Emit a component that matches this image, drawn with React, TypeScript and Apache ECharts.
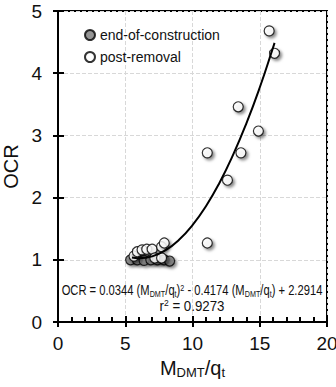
import React, { useEffect, useRef } from "react";
import * as echarts from "echarts";

const endConstructionX = [5.4, 5.9, 6.4, 6.9, 7.4, 7.9, 8.3];
const endConstructionY = [1.0, 1.0, 0.99, 1.0, 1.0, 1.0, 0.98];

const postRemovalX = [15.7, 16.1, 13.4, 14.9, 11.1, 13.6, 12.6, 11.1, 5.65, 5.9, 6.25, 6.6, 7.0, 7.7, 7.9, 7.2, 7.7];
const postRemovalY = [4.68, 4.32, 3.46, 3.07, 2.72, 2.72, 2.28, 1.27, 1.06, 1.13, 1.16, 1.17, 1.17, 1.21, 1.27, 1.03, 1.03];

const fitX = [5.5, 6, 7, 8, 9, 10, 11, 12, 13, 14, 15, 16, 16.1];
const fitY = [1.036, 1.025, 1.055, 1.154, 1.321, 1.557, 1.862, 2.236, 2.679, 3.19, 3.77, 4.419, 4.488];

const xTicks = [0, 5, 10, 15, 20];
const yTicks = [0, 1, 2, 3, 4, 5];

const FONT = "Liberation Sans, Arial, sans-serif";

export default function App() {
  const ref = useRef<HTMLDivElement>(null);
  useEffect(() => {
    if (!ref.current) return;
    const chart = echarts.init(ref.current, null, { renderer: "svg" });
    const shadow = {
      shadowBlur: 3,
      shadowColor: "rgba(0,0,0,0.55)",
      shadowOffsetX: 2,
      shadowOffsetY: 2,
    };
    const baseX = {
      type: "value",
      min: xTicks[0],
      max: xTicks[xTicks.length - 1],
      interval: 5,
    };
    const baseY = {
      type: "value",
      min: yTicks[0],
      max: yTicks[yTicks.length - 1],
      interval: 1,
    };
    const tickStyle = { color: "#000", width: 2 };
    chart.setOption({
      animation: false,
      textStyle: { fontFamily: FONT },
      grid: {
        left: 58,
        right: 9,
        top: 11,
        bottom: 65,
        outerBoundsMode: "none",
        containLabel: false,
        show: true,
        borderColor: "#000",
        borderWidth: 2,
        backgroundColor: "transparent",
      },
      legend: {
        orient: "vertical",
        left: 79,
        top: 23,
        itemWidth: 10,
        itemHeight: 10,
        itemGap: 8,
        icon: "circle",
        textStyle: { fontFamily: FONT, fontSize: 14, color: "#111" },
        data: ["end-of-construction", "post-removal"],
      },
      xAxis: [
        {
          ...baseX,
          position: "bottom",
          name: "{m|M}{s|DMT}{m|/q}{s|t}",
          nameLocation: "middle",
          nameGap: 33,
          nameTextStyle: {
            rich: {
              m: { fontSize: 20, fontFamily: FONT, color: "#111" },
              s: { fontSize: 13, fontFamily: FONT, color: "#111", padding: [9, 0, 0, 0] },
            },
          },
          axisLine: { show: true, onZero: false, lineStyle: { color: "#000", width: 2 } },
          axisTick: { show: true, inside: true, length: 6, lineStyle: tickStyle },
          minorTick: { show: true, splitNumber: 5, length: 5, lineStyle: tickStyle },
          axisLabel: { fontSize: 19, color: "#111", margin: 12, fontFamily: FONT },
          splitLine: { show: true, lineStyle: { color: "#d8d8d8", type: "dashed", width: 1 } },
        },
        {
          ...baseX,
          position: "bottom",
          axisLine: { show: false, onZero: false },
          axisTick: { show: true, inside: false, length: 5, lineStyle: tickStyle },
          axisLabel: { show: false },
          splitLine: { show: false },
        },
      ],
      yAxis: [
        {
          ...baseY,
          position: "left",
          name: "OCR",
          nameLocation: "middle",
          nameGap: 37,
          nameTextStyle: { fontSize: 20, color: "#111", fontFamily: FONT },
          axisLine: { show: true, onZero: false, lineStyle: { color: "#000", width: 2 } },
          axisTick: { show: true, inside: true, length: 6, lineStyle: tickStyle },
          axisLabel: { fontSize: 19, color: "#111", margin: 16, fontFamily: FONT },
          splitLine: { show: true, lineStyle: { color: "#d8d8d8", type: "dashed", width: 1 } },
        },
        {
          ...baseY,
          position: "left",
          axisLine: { show: false, onZero: false },
          axisTick: { show: true, inside: false, length: 5, lineStyle: tickStyle },
          axisLabel: { show: false },
          splitLine: { show: false },
        },
      ],
      series: [
        {
          name: "end-of-construction",
          type: "scatter",
          symbol: "circle",
          symbolSize: 10,
          data: endConstructionX.map((x, i) => [x, endConstructionY[i]]),
          itemStyle: { color: "#7a7a7a", borderColor: "#000", borderWidth: 1.2, ...shadow },
          z: 3,
        },
        {
          name: "post-removal",
          type: "scatter",
          symbol: "circle",
          symbolSize: 10,
          data: postRemovalX.map((x, i) => [x, postRemovalY[i]]),
          itemStyle: { color: "#fff", borderColor: "#000", borderWidth: 1.2, ...shadow },
          z: 4,
        },
        {
          name: "fit",
          type: "line",
          smooth: true,
          symbol: "none",
          data: fitX.map((x, i) => [x, fitY[i]]),
          lineStyle: { color: "#000", width: 2 },
          z: 5,
        },
      ],
      graphic: [
        {
          type: "text",
          x: 192,
          y: 291,
          scaleX: 0.8,
          style: {
            text:
              "{n|OCR = 0.0344 (M}{s|DMT}{n|/q}{s|t}{n|)}{p|2}{n| - 0.4174 (M}{s|DMT}{n|/q}{s|t}{n|) + 2.2914}",
            align: "center",
            verticalAlign: "middle",
            rich: {
              n: { fontSize: 14, fontFamily: FONT, fill: "#111" },
              s: { fontSize: 9, fontFamily: FONT, fill: "#111", padding: [6, 0, 0, 0] },
              p: { fontSize: 9, fontFamily: FONT, fill: "#111", padding: [0, 0, 6, 0] },
            },
          },
          z: 10,
        },
        {
          type: "text",
          x: 192,
          y: 306,
          scaleX: 0.95,
          style: {
            text: "{n|r}{p|2}{n| = 0.9273}",
            align: "center",
            verticalAlign: "middle",
            rich: {
              n: { fontSize: 14, fontFamily: FONT, fill: "#111" },
              p: { fontSize: 9, fontFamily: FONT, fill: "#111", padding: [0, 0, 6, 0] },
            },
          },
          z: 10,
        },
      ],
    });
    return () => chart.dispose();
  }, []);
  return <div ref={ref} style={{ width: 336, height: 387, position: "absolute", left: 0, top: 0, background: "#fff" }} />;
}
